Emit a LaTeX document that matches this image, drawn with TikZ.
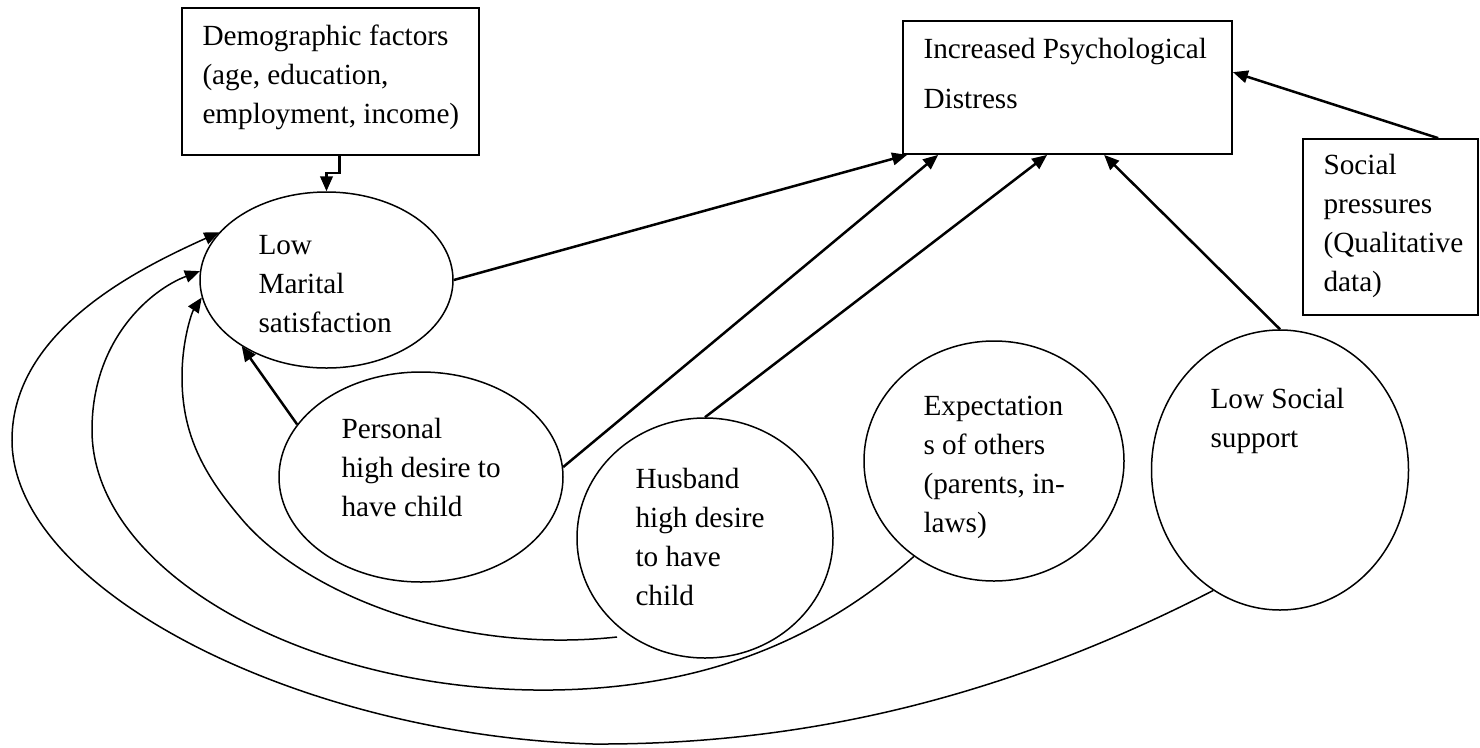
\documentclass[tikz,border=0pt]{standalone}
\usepackage{fontspec}
\setmainfont{Liberation Serif}
\usetikzlibrary{shapes.geometric,arrows.meta,calc}
\newlength{\px}
\setlength{\px}{0.4pt}
\tikzset{
	frame/.style={draw,rectangle,line width=0.7pt,inner sep=0pt},
	oval/.style={draw,ellipse,line width=0.6pt,inner sep=0pt},
	lbl/.style={anchor=base west,align=left,inner sep=0pt,font=\fontsize{11.7}{15.5}\selectfont},
	link/.style={line width=1pt,-{Triangle[length=6pt,width=5pt]}},
	loop/.style={line width=0.6pt,-{Triangle[length=6pt,width=5pt]}}
}
\begin{document}
\begin{tikzpicture}[x=0.4pt,y=-0.4pt]
				\useasboundingbox (0,0) rectangle (1480,747);
				%boxes
				\node[frame,minimum width=297\px,minimum height=147\px] (demog) at (330.5,81.5) {};
				\node[frame,minimum width=329\px,minimum height=133\px] (distress) at (1067.5,87.5) {};
				\node[frame,minimum width=175\px,minimum height=176\px] (pressure) at (1390.5,227) {};
				%ovals
				\node[oval,minimum width=253\px,minimum height=176\px] (marital) at (326.5,280) {};
				\node[oval,minimum width=284\px,minimum height=210\px] (personal) at (421,477) {};
				\node[oval,minimum width=256\px,minimum height=240\px] (husband) at (705,538) {};
				\node[oval,minimum width=260\px,minimum height=240\px] (expect) at (994,461) {};
				\node[oval,minimum width=257\px,minimum height=280\px] (support) at (1280,470) {};
				%texts (placed at the baseline of the last line)
				\node[lbl] (demogtxt) at (202,123) {Demographic factors\\(age, education,\\employment, income)};
				\node[lbl] (distresstxt) at (923,108) {Increased Psychological\\[4.5pt]Distress};
				\node[lbl] (pressuretxt) at (1323,291) {Social\\pressures\\(Qualitative\\data)};
				\node[lbl] (maritaltxt) at (258,332) {Low\\Marital\\satisfaction};
				\node[lbl] (personaltxt) at (341,516) {Personal\\high desire to\\have child};
				\node[lbl] (husbandtxt) at (635,605) {Husband\\high desire\\to have\\child};
				\node[lbl] (expecttxt) at (923,532) {Expectation\\s of others\\(parents, in-\\laws)};
				\node[lbl] (supporttxt) at (1210,447) {Low Social\\support};
				%demographic link
				\draw[link] ($(demog.south)+(9,0)$) -- ++(0,17) -| (marital.north);
				%links to distress
				\draw[link] (marital.east) -- ($(distress.south west)+(5,0)$);
				\draw[link] (personal.4) -- ($(distress.south west)+(36,0)$);
				\draw[link] (husband.north) -- ($(distress.south west)+(145,0)$);
				\draw[link] (support.north) -- ($(distress.south west)+(202,0)$);
				\draw[link] ($(pressure.north west)+(136,0)$) -- ($(distress.north east)+(0,52)$);
				\draw[link] (personal.157) -- (marital.218);
				%loops back to marital satisfaction
				\coordinate (loopend) at (617,637);
				\draw[loop] (support.241) .. controls (1000,700) and (800,745) .. (593,744)
					.. controls (300,735) and (12,590) .. (12,440)
					.. controls (12,330) and (140,268) .. (marital.156);
				\draw[loop] (expect.230) .. controls (820,640) and (700,692) .. (534,690)
					.. controls (300,687) and (92,570) .. (92,430)
					.. controls (92,340) and (150,290) .. (marital.176);
				\draw[loop] (loopend) .. controls (450,655) and (300,590) .. (240,517)
					.. controls (200,470) and (182,430) .. (182,377)
					.. controls (182,340) and (192,312) .. (marital.188);
\end{tikzpicture}
\end{document}
